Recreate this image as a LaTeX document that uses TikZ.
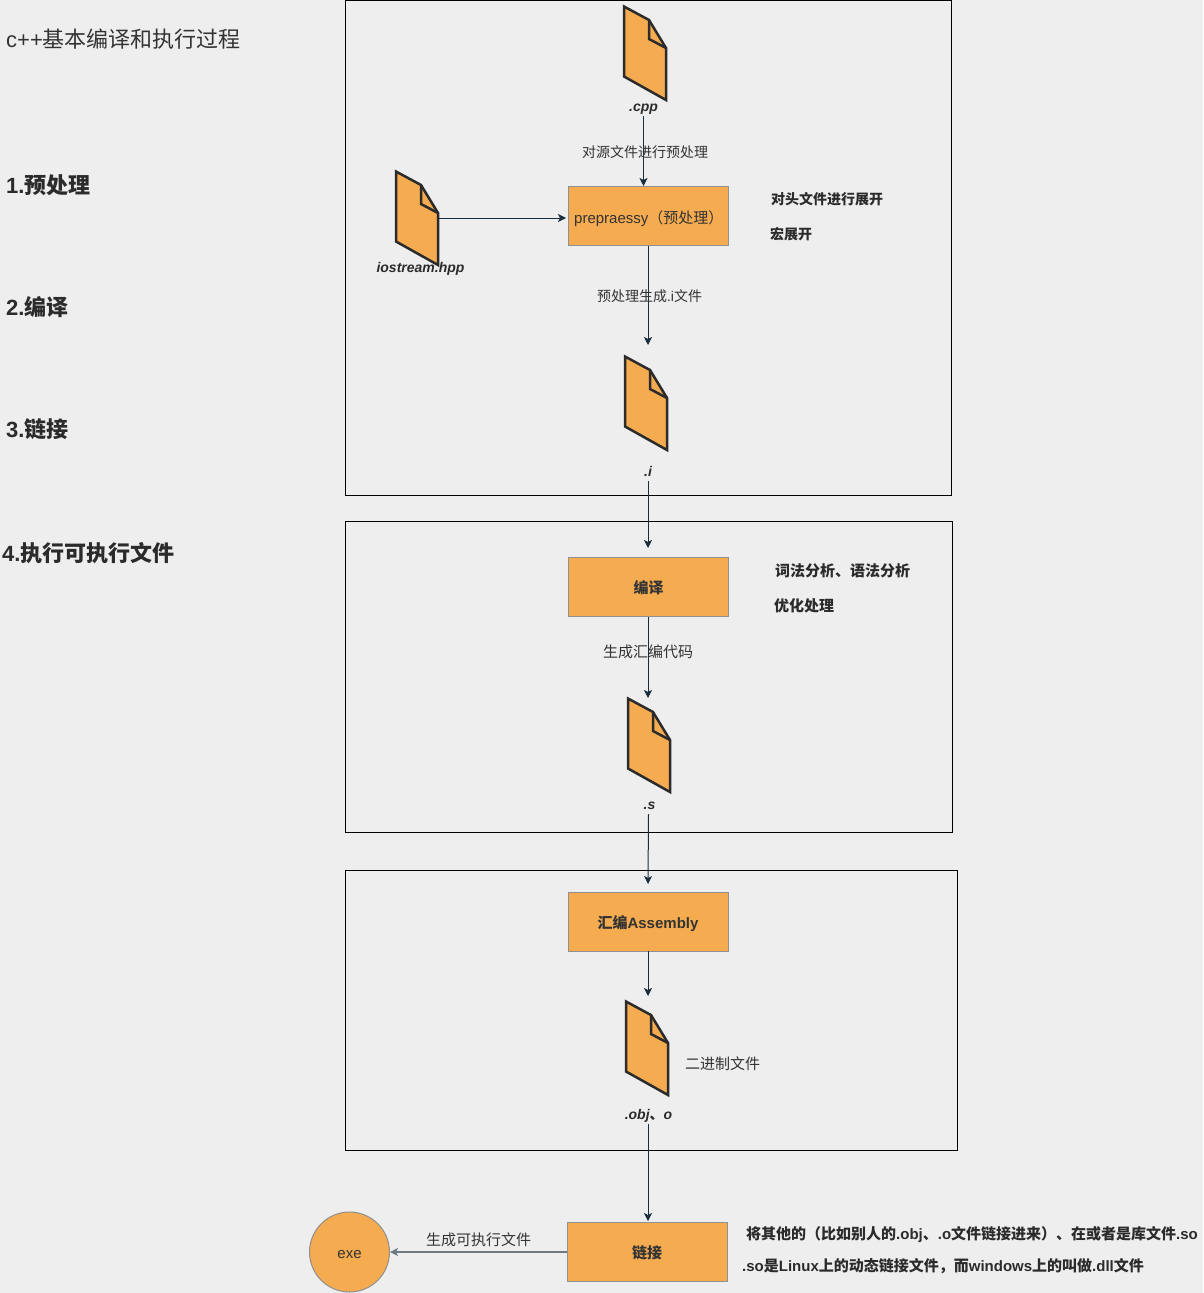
\documentclass[tikz,border=0pt]{standalone}
\usepackage{fontspec}
\setmainfont{Liberation Sans}
\newfontfamily\cjkfont{Noto Sans CJK SC}
\usetikzlibrary{arrows.meta}
\newcommand{\cn}[1]{{\cjkfont #1}}
\definecolor{pagegray}{HTML}{EEEEEE}
\definecolor{blockorange}{HTML}{F5AB50}
\definecolor{blockedge}{HTML}{909090}
\definecolor{flowblue}{HTML}{182E3E}
\definecolor{inktext}{HTML}{333333}
\definecolor{filedark}{HTML}{2B2B2B}
\tikzset{
  frame/.style={draw=black,line width=0.8pt},
  opblock/.style={draw=blockedge,fill=blockorange,line width=1pt,minimum width=160pt,minimum height=59pt,inner sep=0pt,text height=14pt,text depth=2pt,text=inktext,font=\fontsize{15}{17}\selectfont},
  filelabel/.style={inner sep=0pt,minimum height=20pt,text height=12pt,text depth=2pt,text=filedark,font=\fontsize{14}{16}\selectfont\bfseries\itshape},
  flowtext/.style={inner sep=0pt,text=inktext,font=\fontsize{14}{16}\selectfont},
  notetext/.style={anchor=west,inner sep=0pt,text=filedark,font=\fontsize{14}{16}\selectfont\bfseries},
  headtext/.style={anchor=west,inner sep=0pt,text=filedark,font=\fontsize{22}{26}\selectfont\bfseries},
  flow/.style={-{Stealth[length=8pt,width=8pt,inset=2pt]},draw=flowblue,line width=1pt},
  srcfile/.pic={
    \draw[draw=filedark,fill=blockorange,line width=2.5pt,line join=miter]
      (0,0.5) -- (25,14) -- (42,42) -- (42,94) -- (0,70.5) -- cycle;
    \draw[draw=filedark,line width=2.5pt] (25,14) -- (25,33) -- (42,42);
    \coordinate (-east) at (42,47);
  }
}
\begin{document}
\begin{tikzpicture}[x=1pt,y=-1pt]
  \fill[pagegray] (0,0) rectangle (1203,1293);
  \useasboundingbox (0,0) rectangle (1203,1293);

  % outer frames
  \draw[frame] (345.5,0.5) rectangle (951.5,495.5);
  \draw[frame] (345.5,521.5) rectangle (952.5,832.5);
  \draw[frame] (345.5,870.5) rectangle (957.5,1150.5);

  % left column
  \node[headtext,text=inktext,font=\fontsize{22}{26}\selectfont] (title) at (6,39) {c++\cn{基本编译和执行过程}};
  \node[headtext] (step1) at (6,185) {1.\cn{预处理}};
  \node[headtext] (step2) at (6,307) {2.\cn{编译}};
  \node[headtext] (step3) at (6,429) {3.\cn{链接}};
  \node[headtext] (step4) at (2,553) {4.\cn{执行可执行文件}};

  % files
  \pic (cppfile) at (624,6) {srcfile};
  \pic (hppfile) at (396,171) {srcfile};
  \pic (ifile) at (625,356) {srcfile};
  \pic (sfile) at (628,698) {srcfile};
  \pic (objfile) at (626,1001) {srcfile};

  \node[filelabel] (cpp) at (643.5,106) {.cpp};
  \node[filelabel] (hpp) at (420.5,267) {iostream.hpp};
  \node[filelabel] (ilabel) at (648,471) {.i};
  \node[filelabel] (slabel) at (649.5,804) {.s};
  \node[filelabel] (objlabel) at (648.5,1114) {.obj\cn{、}o};

  % blocks
  \node[opblock] (prep) at (648.5,216) {};
  \node[flowtext,anchor=west,font=\fontsize{15}{17}\selectfont] (preptext) at (574,218.5) {prepraessy\cn{（预处理）}};
  \node[opblock,font=\fontsize{15}{17}\selectfont\bfseries] (compile) at (648.5,587) {\cn{编译}};
  \node[opblock,font=\fontsize{15}{17}\selectfont\bfseries] (assembly) at (648,922) {\cn{汇编}Assembly};
  \node[opblock,font=\fontsize{15}{17}\selectfont\bfseries] (link) at (647,1252) {\cn{链接}};
  \node[circle,draw=blockedge,fill=blockorange,line width=1pt,minimum size=80pt,inner sep=0pt,text height=14pt,text depth=2pt,text=inktext,font=\fontsize{15}{17}\selectfont] (exe) at (349.5,1252) {exe};

  % free ends of the arrows
  \coordinate (prepin) at (643.5,186);
  \coordinate (hppin) at (566,218);
  \coordinate (iin) at (648,345);
  \coordinate (compilein) at (648,548);
  \coordinate (sin) at (648,698);
  \coordinate (assemblyin) at (648,884);
  \coordinate (objin) at (648,996);
  \coordinate (linkin) at (648,1221);
  \coordinate (prepout) at (648,246);
  \coordinate (compileout) at (648,617);
  \coordinate (assemblyout) at (648,951);
  \coordinate (iout) at (648,481);
  \coordinate (sout) at (648.5,814);
  \coordinate (objout) at (648,1124);

  \path[every edge/.style={flow,draw}]
        (cpp.south) edge (prepin)
        (hppfile-east) edge (hppin)
        (prepout) edge (iin)
        (iout) edge (compilein)
        (compileout) edge (sin)
        (sout) edge (assemblyin)
        (assemblyout) edge (objin)
        (objout) edge (linkin);
  \draw[flow,draw=flowblue!60!pagegray,line width=1.4pt] (link) -- (exe);

  % labels on the arrows
  \node[flowtext] (lab1) at (645,152) {\cn{对源文件进行预处理}};
  \node[flowtext] (lab2) at (649.5,296) {\cn{预处理生成}.i\cn{文件}};
  \node[flowtext,font=\fontsize{15}{17}\selectfont] (lab3) at (648,652) {\cn{生成汇编代码}};
  \node[flowtext,font=\fontsize{15}{17}\selectfont,anchor=west] (lab4) at (685,1064) {\cn{二进制文件}};
  \node[flowtext,font=\fontsize{15}{17}\selectfont] (lab5) at (478.5,1240) {\cn{生成可执行文件}};

  % notes on the right
  \node[notetext] (note1) at (771,199) {\cn{对头文件进行展开}};
  \node[notetext] (note2) at (770,234) {\cn{宏展开}};
  \node[notetext,font=\fontsize{15}{17}\selectfont\bfseries] (note3) at (775,571) {\cn{词法分析、语法分析}};
  \node[notetext,font=\fontsize{15}{17}\selectfont\bfseries] (note4) at (774,606) {\cn{优化处理}};
  \node[notetext,font=\fontsize{15}{17}\selectfont\bfseries] (note5) at (746,1235) {\cn{将其他的（比如别人的}.obj\cn{、}.o\cn{文件链接进来）、在或者是库文件}.so};
  \node[notetext,font=\fontsize{15}{17}\selectfont\bfseries] (note6) at (742,1266) {.so\cn{是}Linux\cn{上的动态链接文件，而}windows\cn{上的叫做}.dll\cn{文件}};
\end{tikzpicture}
\end{document}
